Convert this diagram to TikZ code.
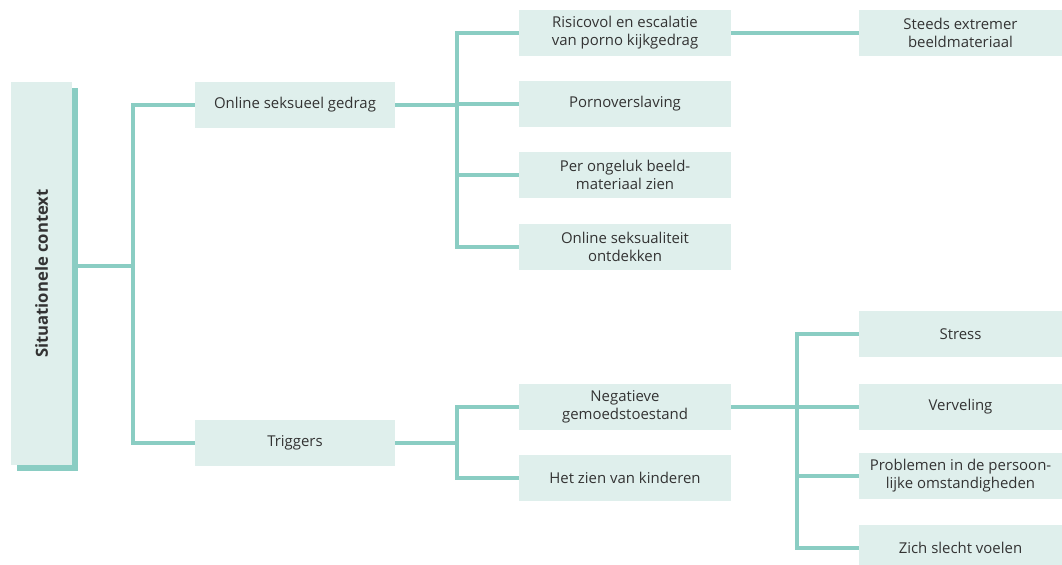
\documentclass[tikz,border=0pt]{standalone}
\usepackage{fontspec}
\setmainfont{Open Sans}
\usetikzlibrary{positioning}

\definecolor{boxfill}{HTML}{DFEFEC}
\definecolor{linecol}{HTML}{8ACDC3}
\definecolor{txtcol}{HTML}{333333}

\tikzset{
  box/.style={fill=boxfill, text=txtcol, minimum height=34pt, inner sep=0pt,
              align=center, font=\fontsize{11.2}{13.6}\selectfont},
  conn/.style={draw=linecol, line width=2.6pt},
}

\begin{document}
\begin{tikzpicture}[x=0.75pt, y=-0.75pt]
        \useasboundingbox (0,0) rectangle (1062,564);

        % linker kolom
        \fill[linecol] (17,88) rectangle (78,471);
        \node[fill=boxfill, minimum width=45.75pt, minimum height=287.25pt, inner sep=0pt] (sit) at (41.5,273.5) {};
        \node[rotate=90, text=txtcol, font=\fontsize{12.5}{14}\selectfont\bfseries] (sitlab) at (41.5,273.5) {Situationele context};

        % niveau 1
        \node[box, minimum width=150pt] (osg) at (295,105) {Online seksueel gedrag};
        \node[box, minimum width=150pt] (trig) at (295,443) {Triggers};

        % niveau 2
        \node[box, minimum width=159pt] (risico) at (625,33) {Risicovol en escalatie\\van porno kijkgedrag};
        \node[box, minimum width=159pt] (porno) at (625,104) {Pornoverslaving};
        \node[box, minimum width=159pt] (ongeluk) at (625,175) {Per ongeluk beeld-\\materiaal zien};
        \node[box, minimum width=159pt] (ontdek) at (625,247) {Online seksualiteit\\ontdekken};
        \node[box, minimum width=159pt] (neg) at (625,407) {Negatieve\\gemoedstoestand};
        \node[box, minimum width=159pt] (kind) at (625,478) {Het zien van kinderen};

        % niveau 3
        \node[box, minimum width=152.25pt] (steeds) at (960.5,33) {Steeds extremer\\beeldmateriaal};
        \node[box, minimum width=152.25pt] (stress) at (960.5,334) {Stress};
        \node[box, minimum width=152.25pt] (verv) at (960.5,407) {Verveling};
        \node[box, minimum width=152.25pt] (probl) at (960.5,476) {Problemen in de persoon-\\lijke omstandigheden};
        \node[box, minimum width=152.25pt] (slecht) at (960.5,548) {Zich slecht voelen};

        \coordinate (j0) at (133,266);
        \coordinate (j1) at (457,105);
        \coordinate (j2) at (457,443);
        \coordinate (j3) at (797,407);

        \draw[conn] (j0 -| 78,0) -- (j0);
        \draw[conn] (j0) |- (osg.west);
        \draw[conn] (j0) |- (trig.west);

        \draw[conn] (osg.east) -- (j1);
        \draw[conn] (j1) |- (risico.west);
        \draw[conn] (j1) |- (porno.west);
        \draw[conn] (j1) |- (ongeluk.west);
        \draw[conn] (j1) |- (ontdek.west);

        \draw[conn] (risico.east) -- (steeds.west);

        \draw[conn] (trig.east) -- (j2);
        \draw[conn] (j2) |- (neg.west);
        \draw[conn] (j2) |- (kind.west);

        \draw[conn] (neg.east) -- (j3);
        \draw[conn] (j3) |- (stress.west);
        \draw[conn] (j3) |- (verv.west);
        \draw[conn] (j3) |- (probl.west);
        \draw[conn] (j3) |- (slecht.west);
      \end{tikzpicture}
\end{document}
